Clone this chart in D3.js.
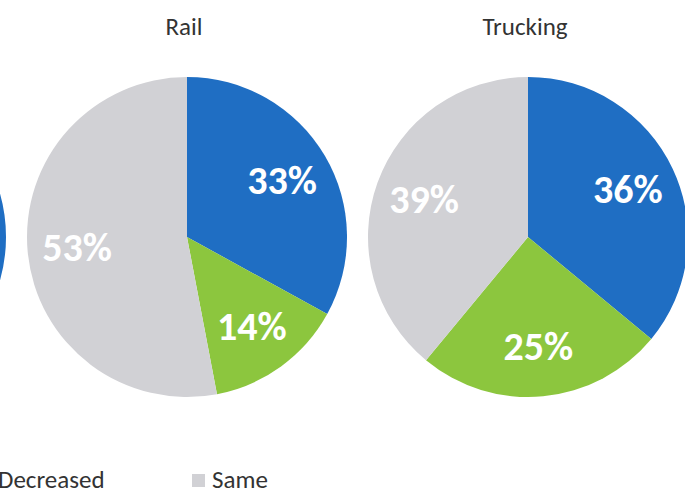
<!DOCTYPE html>
<html>
<head>
<meta charset="utf-8">
<script src="https://cdn.jsdelivr.net/npm/d3@7"></script>
<style>
  html, body { margin: 0; padding: 0; background: #ffffff; overflow: hidden; }
  svg { display: block; }
</style>
</head>
<body>
<svg id="chart" width="685" height="489"></svg>
<script>
// Survey responses by transport mode: share that increased / decreased / stayed the same
const modes = ["Air", "Rail", "Trucking"];
const categories = ["Increased", "Decreased", "Same"];
const airValues = [40, 20, 40];
const railValues = [33, 14, 53];
const truckingValues = [36, 25, 39];
const seriesValues = [airValues, railValues, truckingValues];
const sliceColors = ["#1f6ec3", "#8cc63e", "#d1d1d5"];

const W = 685, H = 489;
const radius = 160;
const pieCY = 237;
const fontFamily = "Carlito, Calibri, Lato, 'Open Sans', sans-serif";

const svg = d3.select("#chart");

// one column per mode; the row of pies runs past the left edge of the view
const xBand = d3.scaleBand().domain(modes).range([-324.5, 698.5]).padding(0);
const color = d3.scaleOrdinal().domain(categories).range(sliceColors);

const pie = d3.pie().sort(null).value(d => d.value)
  .startAngle(0).endAngle(2 * Math.PI);
const arc = d3.arc().innerRadius(0).outerRadius(radius);
const labelArc = d3.arc().innerRadius(radius * 0.69).outerRadius(radius * 0.69);

modes.forEach((mode, mi) => {
  const cx = xBand(mode) + xBand.bandwidth() / 2;
  const data = categories.map((c, i) => ({ category: c, value: seriesValues[mi][i] }));
  const g = svg.append("g").attr("transform", `translate(${cx},${pieCY})`);
  const slices = pie(data);

  g.selectAll("path.slice")
    .data(slices)
    .join("path")
    .attr("class", "slice")
    .attr("d", arc)
    .attr("fill", d => color(d.data.category));

  // titles and value labels only for pies whose centre lies inside the view
  if (cx < 0 || cx > W) return;

  g.selectAll("text.value")
    .data(slices)
    .join("text")
    .attr("class", "value")
    .attr("transform", d => `translate(${labelArc.centroid(d)})`)
    .attr("text-anchor", "middle")
    .attr("dominant-baseline", "central")
    .attr("font-family", fontFamily)
    .attr("font-weight", "bold")
    .attr("font-size", 40)
    .attr("fill", "#ffffff")
    .text(d => d.data.value + "%");

  svg.append("text")
    .attr("x", cx - 3)
    .attr("y", 35)
    .attr("text-anchor", "middle")
    .attr("font-family", fontFamily)
    .attr("font-size", 25)
    .attr("fill", "#333333")
    .text(mode);
});

// legend row along the bottom
const legendX = d3.scaleBand().domain(categories).range([-236, -236 + 214 * 3]).padding(0);
const items = svg.append("g").selectAll("g.item")
  .data(categories)
  .join("g")
  .attr("class", "item")
  .attr("transform", d => `translate(${legendX(d)},0)`);

items.append("rect")
  .attr("x", 0)
  .attr("y", 474)
  .attr("width", 13)
  .attr("height", 13)
  .attr("fill", d => color(d));

items.append("text")
  .attr("x", 20)
  .attr("y", 488)
  .attr("font-family", fontFamily)
  .attr("font-size", 25)
  .attr("fill", "#333333")
  .text(d => d);
</script>
</body>
</html>
